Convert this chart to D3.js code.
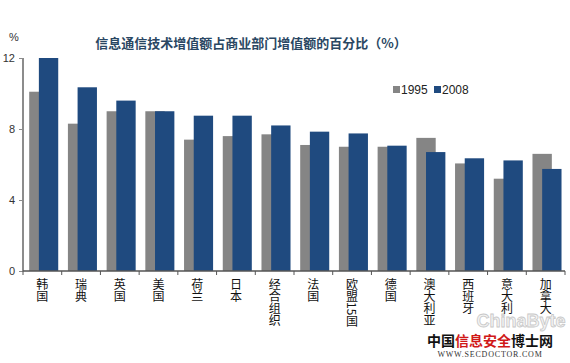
<!DOCTYPE html>
<html>
<head>
<meta charset="utf-8">
<script src="https://cdn.jsdelivr.net/npm/d3@7"></script>
<style>
  body { margin: 0; background: #fff; }
  svg { display: block; }
</style>
</head>
<body>
<div id="chart"></div>
<script>
const countries = ["韩国", "瑞典", "英国", "美国", "荷兰", "日本", "经合组织", "法国", "欧盟15国", "德国", "澳大利亚", "西班牙", "意大利", "加拿大"];
const v1995 = [10.1, 8.3, 9.0, 9.0, 7.4, 7.6, 7.7, 7.1, 7.0, 7.0, 7.5, 6.06, 5.2, 6.6];
const v2008 = [12.0, 10.35, 9.6, 9.0, 8.75, 8.75, 8.2, 7.85, 7.75, 7.06, 6.7, 6.35, 6.23, 5.75];
const years = ["1995", "2008"];
const yTicks = [0, 4, 8, 12];

const colors = { "1995": "#858585", "2008": "#1f4a7f" };
const width = 570, height = 363;
const margin = { top: 58, right: 5, bottom: 92, left: 23 };

const svg = d3.select("#chart").append("svg").attr("width", width).attr("height", height);

const x = d3.scaleBand().domain(countries).range([margin.left, width - margin.right]);
const y = d3.scaleLinear().domain([0, 12]).range([height - margin.bottom, margin.top]);

// bars overlap by half their width, 2008 in front
const barW = x.bandwidth() * 0.5;
const off = { "1995": x.bandwidth() * 0.16, "2008": x.bandwidth() * 0.16 + barW * 0.5 };

const series = { "1995": v1995, "2008": v2008 };
years.forEach((yr) => {
  svg.append("g")
    .selectAll("rect")
    .data(countries)
    .join("rect")
    .attr("x", (d) => x(d) + off[yr])
    .attr("width", barW)
    .attr("y", (d, i) => y(series[yr][i]))
    .attr("height", (d, i) => y(0) - y(series[yr][i]))
    .attr("fill", colors[yr]);
});

// y axis
const yAxis = svg.append("g")
  .attr("transform", `translate(${margin.left},0)`)
  .call(d3.axisLeft(y).tickValues(yTicks).tickSize(4).tickFormat(d3.format("d")));
yAxis.select(".domain").attr("stroke", "#8c8c8c").attr("stroke-width", 2).attr("d", `M0,${y(12)}V${y(0)}`);
yAxis.selectAll(".tick line").attr("stroke", "#8c8c8c");
yAxis.selectAll(".tick text")
  .attr("x", -8)
  .attr("fill", "#333")
  .style("font-family", "Arial, 'Liberation Sans', sans-serif")
  .style("font-size", "11px");

// x axis line + boundary ticks
const xAxis = svg.append("g");
xAxis.append("line")
  .attr("x1", margin.left).attr("x2", width - margin.right)
  .attr("y1", y(0)).attr("y2", y(0))
  .attr("stroke", "#555").attr("stroke-width", 1.5);
const bounds = countries.map((d) => x(d)).concat([x(countries[countries.length - 1]) + x.bandwidth()]);
xAxis.selectAll(".xt")
  .data(bounds)
  .join("line")
  .attr("x1", (d) => d).attr("x2", (d) => d)
  .attr("y1", y(0)).attr("y2", y(0) + 4)
  .attr("stroke", "#555");

// watermark behind labels
svg.append("text")
  .attr("x", 521).attr("y", 327)
  .attr("text-anchor", "middle")
  .attr("fill", "#f3f3f3").attr("stroke", "#c8c8c8").attr("stroke-width", 0.8)
  .style("font-family", "Arial, 'Liberation Sans', sans-serif")
  .style("font-size", "18px")
  .style("font-weight", "bold")
  .text("ChinaByte");

// vertical category labels
svg.append("g")
  .selectAll("text")
  .data(countries)
  .join("text")
  .attr("x", (d) => x(d) + x.bandwidth() / 2)
  .attr("y", y(0) + 7)
  .style("writing-mode", "vertical-rl")
  .style("font-family", "'Noto Sans CJK SC', sans-serif")
  .style("font-size", "12px")
  .attr("fill", "#111")
  .text((d) => d);

// unit label
svg.append("text")
  .attr("x", 14).attr("y", 41)
  .attr("text-anchor", "middle")
  .attr("fill", "#333")
  .style("font-family", "Arial, 'Liberation Sans', sans-serif")
  .style("font-size", "11px")
  .text("%");

// title
svg.append("text")
  .attr("x", 251).attr("y", 48)
  .attr("text-anchor", "middle")
  .attr("fill", "#2a4763")
  .style("font-family", "'Noto Sans CJK SC', sans-serif")
  .style("font-size", "13px")
  .style("font-weight", "bold")
  .text("信息通信技术增值额占商业部门增值额的百分比（%）");

// legend
const legend = svg.append("g").attr("transform", "translate(393,94)");
years.forEach((yr, i) => {
  const g = legend.append("g").attr("transform", `translate(${i * 41},0)`);
  g.append("rect").attr("x", 0).attr("y", -8).attr("width", 7).attr("height", 7).attr("fill", colors[yr]);
  g.append("text")
    .attr("x", 8).attr("y", 0)
    .attr("fill", "#222")
    .style("font-family", "Arial, 'Liberation Sans', sans-serif")
    .style("font-size", "12px")
    .text(yr);
});

// site watermark
const wm = svg.append("text")
  .attr("x", 490).attr("y", 346)
  .attr("text-anchor", "middle")
  .style("font-family", "'Noto Sans CJK SC', sans-serif")
  .style("font-size", "14px")
  .style("font-weight", "bold");
const wmChars = [["中国", "#111"], ["信息安全", "#d01818"], ["博士网", "#111"]];
wmChars.forEach(([t, c]) => wm.append("tspan").attr("fill", c).text(t));

svg.append("text")
  .attr("x", 490).attr("y", 357)
  .attr("text-anchor", "middle")
  .attr("fill", "#333")
  .style("font-family", "'Liberation Serif', serif")
  .style("font-size", "8px")
  .style("letter-spacing", "0.8px")
  .text("WWW.SECDOCTOR.COM");
</script>
</body>
</html>
